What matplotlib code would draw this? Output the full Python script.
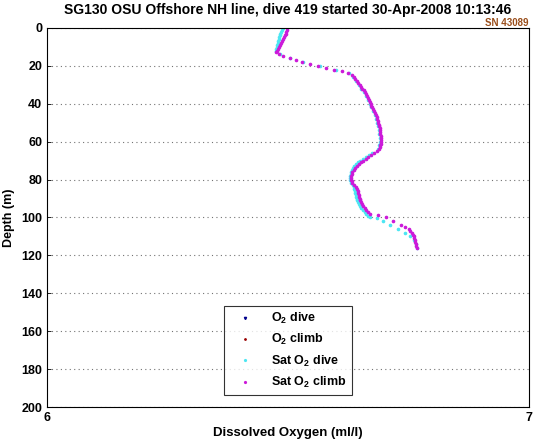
import matplotlib
matplotlib.use("Agg")
import matplotlib.pyplot as plt

plt.rcParams['font.family'] = ['Liberation Sans', 'DejaVu Sans']
plt.rcParams['font.weight'] = 'bold'
plt.rcParams['mathtext.fontset'] = 'custom'
plt.rcParams['mathtext.bf'] = 'Liberation Sans:bold'
plt.rcParams['mathtext.rm'] = 'Liberation Sans:bold'
plt.rcParams['mathtext.default'] = 'bf'

title = "SG130 OSU Offshore NH line, dive 419 started 30-Apr-2008 10:13:46"
serial = "SN 43089"
xlabel = "Dissolved Oxygen (ml/l)"
ylabel = "Depth (m)"
yticks = [0, 20, 40, 60, 80, 100, 120, 140, 160, 180, 200]
xticks = [6, 7]

# O2 (not visible in range)
o2_dive_val, o2_dive_depth = [], []
o2_climb_val, o2_climb_depth = [], []

# Sat O2 climb (magenta)
sat_climb_depth = [0, 1, 2, 3, 4, 5, 6, 7, 8, 9, 10, 11, 12, 13, 14, 15, 16, 17, 18, 19, 20, 21,
                   22, 23, 24, 25, 26, 27, 28, 29, 30, 31, 32, 33, 34, 35, 36, 37, 38, 39, 40,
                   41, 42, 43, 44, 45, 46, 47, 48, 49, 50, 51, 52, 53, 54, 55, 56, 57, 58, 59,
                   60, 61, 62, 63, 64, 65, 66, 67, 68, 69, 70, 71, 72, 73, 74, 75, 76, 77, 78,
                   79, 80, 81, 82, 83, 84, 85, 86, 87, 88, 89, 90, 91, 92, 93, 94, 95, 96, 97, 98,
                   98.5, 100, 102, 104, 105, 106, 107, 108, 109, 110, 111, 112, 113, 114, 115, 116]
sat_climb_val = [6.498, 6.497, 6.496, 6.495, 6.494, 6.492, 6.490, 6.488, 6.485, 6.483, 6.481,
                 6.479, 6.477, 6.475, 6.481, 6.490, 6.504, 6.517, 6.529, 6.546, 6.562, 6.579,
                 6.595, 6.612, 6.624, 6.633, 6.637, 6.640, 6.643, 6.646, 6.649, 6.651, 6.654,
                 6.657, 6.660, 6.662, 6.664, 6.666, 6.668, 6.670, 6.672, 6.673, 6.674, 6.676,
                 6.678, 6.680, 6.683, 6.684, 6.685, 6.686, 6.687, 6.688, 6.689, 6.690, 6.691,
                 6.691, 6.691, 6.692, 6.693, 6.693, 6.693, 6.692, 6.691, 6.690, 6.689, 6.684,
                 6.678, 6.672, 6.666, 6.661, 6.656, 6.651, 6.647, 6.643, 6.639, 6.636, 6.633,
                 6.632, 6.631, 6.631, 6.631, 6.632, 6.633, 6.637, 6.641, 6.643, 6.645, 6.646,
                 6.647, 6.648, 6.649, 6.650, 6.651, 6.653, 6.656, 6.659, 6.662, 6.666, 6.670,
                 6.687, 6.703, 6.718, 6.734, 6.743, 6.751, 6.754, 6.757, 6.759, 6.761, 6.762,
                 6.763, 6.764, 6.765, 6.766, 6.768]

# Sat O2 dive (cyan)
sat_dive_depth = [0, 1, 2, 3, 4, 5, 6, 7, 8, 9, 10, 11, 12, 14, 16, 18, 20, 22, 24, 26, 28, 30,
                  32, 34, 36, 38, 40, 42, 44, 46, 48, 50, 52, 54, 56, 58, 60, 62, 64, 66, 67,
                  68, 69, 70, 71, 72, 73, 74, 75, 76, 77, 78, 79, 80, 81, 82, 83, 84, 85, 86,
                  87, 88, 89, 90, 91, 92, 93, 94, 95, 96, 97, 98, 99, 100,
                  100.5, 102, 104, 106, 108, 110, 112, 114, 116]
sat_dive_val = [6.490, 6.488, 6.485, 6.484, 6.483, 6.482, 6.481, 6.480, 6.479, 6.478, 6.477,
                6.476, 6.475, 6.483, 6.504, 6.531, 6.566, 6.599, 6.626, 6.635, 6.641, 6.647,
                6.652, 6.658, 6.662, 6.666, 6.670, 6.672, 6.676, 6.680, 6.683, 6.685, 6.687,
                6.689, 6.689, 6.691, 6.691, 6.689, 6.687, 6.674, 6.668, 6.662, 6.656, 6.649,
                6.645, 6.641, 6.638, 6.635, 6.633, 6.631, 6.630, 6.629, 6.629, 6.629, 6.630,
                6.631, 6.634, 6.637, 6.638, 6.639, 6.640, 6.641, 6.642, 6.643, 6.644, 6.645,
                6.647, 6.649, 6.652, 6.656, 6.659, 6.662, 6.666, 6.670,
                6.685, 6.697, 6.712, 6.728, 6.743, 6.753, 6.761, 6.765, 6.768]

fig = plt.figure(figsize=(5.37, 4.42), dpi=100)
ax = fig.add_axes([0.0875, 0.079, 0.8975, 0.858])

ax.plot(o2_dive_val, o2_dive_depth, linestyle='none', marker='v', markersize=2,
        color=(0.0, 0.0, 0.55), label=r'O$_2$ dive')
ax.plot(o2_climb_val, o2_climb_depth, linestyle='none', marker='.', markersize=2.5,
        color=(0.6, 0.0, 0.0), label=r'O$_2$ climb')
ax.plot(sat_dive_val, sat_dive_depth, linestyle='none', marker='.', markersize=3.2,
        color=(0.3, 0.9, 0.95), label=r'Sat O$_2$ dive')
ax.plot(sat_climb_val, sat_climb_depth, linestyle='none', marker='.', markersize=3.2,
        color=(0.8, 0.1, 0.85), label=r'Sat O$_2$ climb')

ax.set_xlim(6, 7)
ax.set_ylim(200, 0)
ax.set_xticks(xticks)
ax.set_yticks(yticks)
ax.tick_params(direction='in', labelsize=9, length=3, width=0.6)
for lab in ax.get_xticklabels() + ax.get_yticklabels():
    lab.set_fontweight('bold')
ax.yaxis.grid(True, linestyle=(0, (1, 3)), color='0.45', linewidth=0.8)
for s in ax.spines.values():
    s.set_linewidth(0.8)

ax.set_title(title, fontsize=10, fontweight='bold', pad=10)
ax.set_xlabel(xlabel, fontsize=9.5, fontweight='bold', labelpad=2)
ax.set_ylabel(ylabel, fontsize=9, fontweight='bold', labelpad=4)
ax.text(1.0, 1.0, serial, transform=ax.transAxes, ha='right', va='bottom',
        fontsize=7, color=(0.6, 0.3, 0.1))

leg = ax.legend(loc='lower center', bbox_to_anchor=(0.5, 0.015), fontsize=9,
                frameon=True, fancybox=False, edgecolor='black', markerscale=0.8,
                handletextpad=0.8, borderpad=0.4, labelspacing=0.5, handlelength=2.6)
leg.get_frame().set_linewidth(0.8)
for t in leg.get_texts():
    t.set_fontweight('bold')

fig.savefig('out.png', dpi=100)
